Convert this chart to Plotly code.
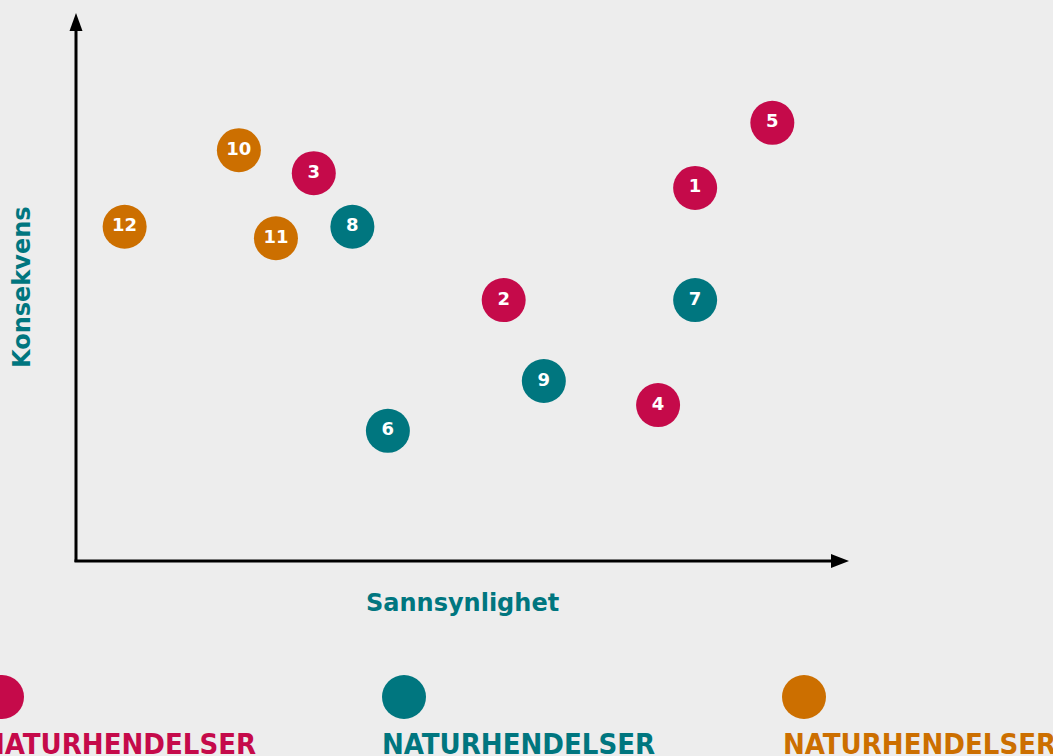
import plotly.graph_objects as go

# Data
labels = ["1", "2", "3", "4", "5", "6", "7", "8", "9", "10", "11", "12"]
sannsynlighet = [80.2, 55.4, 30.8, 75.4, 90.2, 40.4, 80.2, 35.8, 60.6, 21.1, 25.9, 6.3]
konsekvens = [68.2, 47.7, 70.9, 28.5, 80.1, 23.8, 47.7, 61.1, 32.9, 75.1, 59.0, 61.1]
group = [0, 0, 0, 0, 0, 1, 1, 1, 1, 2, 2, 2]
group_names = ["NATURHENDELSER", "NATURHENDELSER", "NATURHENDELSER"]
colors = ["#C50A4A", "#00767F", "#CC6F00"]

W, H = 1053, 756
BG = "#EDEDED"
FONT = "DejaVu Sans"

fig = go.Figure()
for g in range(3):
    idx = [i for i in range(len(labels)) if group[i] == g]
    fig.add_trace(go.Scatter(
        x=[sannsynlighet[i] for i in idx],
        y=[konsekvens[i] for i in idx],
        text=["<b>%s</b>" % labels[i] for i in idx],
        mode="markers+text",
        textposition="middle center",
        textfont=dict(color="white", size=18, family=FONT),
        marker=dict(size=44, color=colors[g], line=dict(width=0)),
        hoverinfo="skip",
        showlegend=False,
        cliponaxis=False,
    ))

def px(x):
    return x / W

def py(y):
    return 1 - y / H

shapes = []
# axis lines
shapes.append(dict(type="line", xref="paper", yref="paper", x0=px(76), y0=py(562), x1=px(76), y1=py(25),
                   line=dict(color="black", width=3)))
shapes.append(dict(type="line", xref="paper", yref="paper", x0=px(74.5), y0=py(561), x1=px(835), y1=py(561),
                   line=dict(color="black", width=3)))
# arrowheads
shapes.append(dict(type="path", xref="paper", yref="paper",
                   path="M %f %f L %f %f L %f %f Z" % (px(76), py(13), px(69.5), py(31), px(82.5), py(31)),
                   fillcolor="black", line=dict(width=0)))
shapes.append(dict(type="path", xref="paper", yref="paper",
                   path="M %f %f L %f %f L %f %f Z" % (px(849), py(561), px(831), py(554), px(831), py(568)),
                   fillcolor="black", line=dict(width=0)))
# legend circles
for cx, c in zip([2, 404, 804], colors):
    shapes.append(dict(type="circle", xref="paper", yref="paper",
                       x0=px(cx - 22), x1=px(cx + 22), y0=py(719), y1=py(675),
                       fillcolor=c, line=dict(width=0)))

annotations = [
    dict(text="<b>Sannsynlighet</b>", x=px(462), y=py(603), xref="paper", yref="paper",
         showarrow=False, font=dict(size=24, color="#00767F", family=FONT), xanchor="center", yanchor="middle"),
    dict(text="<b>Konsekvens</b>", x=px(22), y=py(287), xref="paper", yref="paper", textangle=-90,
         showarrow=False, font=dict(size=24, color="#00767F", family=FONT), xanchor="center", yanchor="middle"),
]
for lx, name, c in zip([-19, 380, 781], group_names, colors):
    annotations.append(dict(text="<b>%s</b>" % name, x=px(lx), y=py(744), xref="paper", yref="paper",
                            showarrow=False, xanchor="left", yanchor="middle",
                            font=dict(size=29, color=c, family="DejaVu Sans Condensed")))

fig.update_layout(
    width=W, height=H, autosize=False,
    margin=dict(l=0, r=0, t=0, b=0),
    paper_bgcolor=BG, plot_bgcolor=BG,
    xaxis=dict(domain=[px(76), px(848)], range=[0, 100], visible=False, fixedrange=True),
    yaxis=dict(domain=[py(561), py(14)], range=[0, 100], visible=False, fixedrange=True),
    shapes=shapes, annotations=annotations,
)

fig.write_html("out.html", config={"displayModeBar": False},
               post_script="document.body.style.margin='0';document.body.style.overflow='hidden';")
